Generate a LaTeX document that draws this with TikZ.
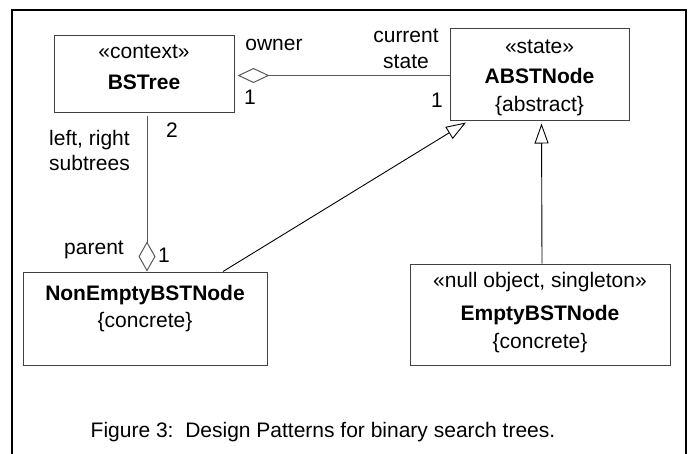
\documentclass[tikz,border=0pt]{standalone}
\usepackage{fontspec}
\setmainfont{Liberation Sans}
\usetikzlibrary{arrows.meta}
\tikzset{
  umlbox/.style={draw=black!75, line width=1pt, inner sep=0pt, rectangle},
  txt/.style={inner sep=0pt, anchor=base, font=\fontsize{21}{25}\selectfont},
  btxt/.style={inner sep=0pt, anchor=base, font=\fontsize{21}{25}\selectfont\bfseries},
  assoc/.style={draw=black!65, line width=1pt},
  gen/.style={draw=black, line width=0.9pt, -{Triangle[open, length=20pt, width=14pt]}},
}
\begin{document}
\begin{tikzpicture}[x=1pt,y=-1pt]
\useasboundingbox (0,0) rectangle (695,453);
% frame
\draw[line width=2pt] (12,460) -- (12,10) -- (686,10) -- (686,460);

% boxes
\node[umlbox, minimum width=180pt, minimum height=77pt] (bstree) at (144,73.5) {};
\node[umlbox, minimum width=179pt, minimum height=92pt] (abst) at (539.5,74) {};
\node[umlbox, minimum width=244pt, minimum height=93pt] (ne) at (145,318.5) {};
\node[umlbox, minimum width=260pt, minimum height=101pt] (empty) at (540,314.5) {};

% box texts
\node[txt] (bstreeS) at (144,58) {«context»};
\node[btxt] (bstreeN) at (144,89) {BSTree};
\node[txt] (abstS) at (539.5,53) {«state»};
\node[btxt] (abstN) at (539.5,83) {ABSTNode};
\node[txt] (abstP) at (539.5,111) {\{abstract\}};
\node[btxt] (neN) at (145,300) {NonEmptyBSTNode};
\node[txt] (neP) at (145,327) {\{concrete\}};
\node[txt] (emptyS) at (540,287) {«null object, singleton»};
\node[btxt] (emptyN) at (540,320) {EmptyBSTNode};
\node[txt] (emptyP) at (540,348) {\{concrete\}};

% association BSTree -- ABSTNode (owner / current state)
\draw[assoc, {Diamond[open, length=32pt, width=15pt]}-]
  ([xshift=3pt, yshift=-2pt]bstree.east) coordinate (a1) -- (a1 -| abst.west);
\node[txt] (owner) at (274,50) {owner};
\node[txt] (m1) at (250,104) {1};
\node[txt] (cur) at (406,42) {current};
\node[txt] (st) at (406,68) {state};
\node[txt] (m2) at (437,107) {1};

% association BSTree -- NonEmptyBSTNode (subtrees / parent)
\draw[assoc, -{Diamond[open, length=30pt, width=17pt]}]
  ([xshift=3pt, yshift=-3pt]bstree.south) coordinate (b1) -- (b1 |- ne.north);
\node[txt] (m3) at (172,137) {2};
\node[txt] (lr) at (89.5,145) {left, right};
\node[txt] (sub) at (89.5,170) {subtrees};
\node[txt] (par) at (94,254) {parent};
\node[txt] (m4) at (164,262) {1};

% generalizations
\draw[gen] ([xshift=78pt]ne.north) -- ([xshift=-73.5pt, yshift=-2pt]abst.south);
\draw[gen] ([xshift=2pt]empty.north) -- ([xshift=2pt, yshift=-3pt]abst.south);

% caption
\node[txt] (cap) at (323,437) {Figure 3:\ \ Design Patterns for binary search trees.};
\end{tikzpicture}
\end{document}
